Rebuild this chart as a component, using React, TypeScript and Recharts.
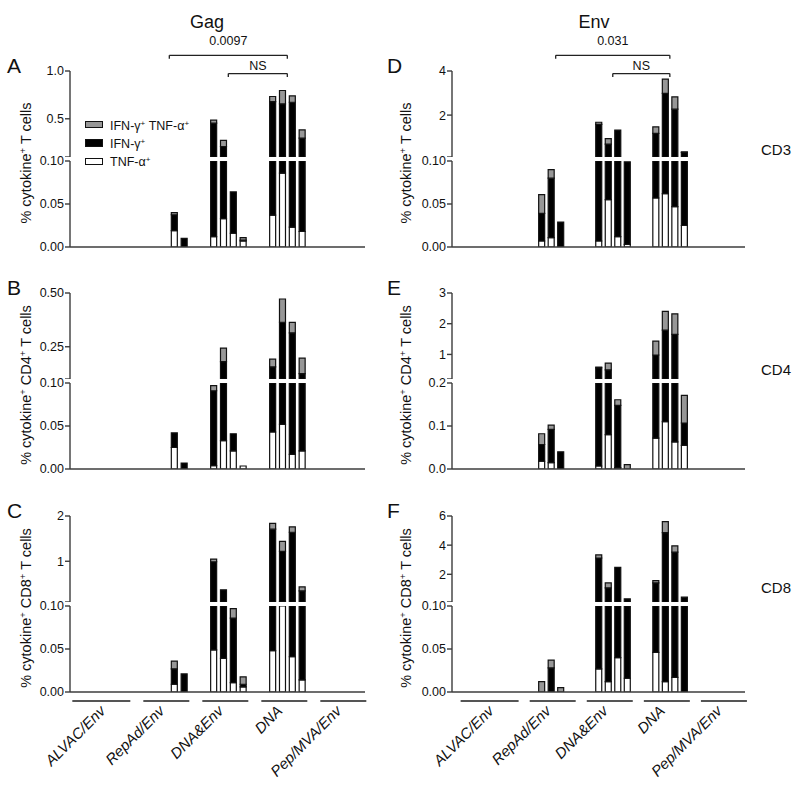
import React from "react";
import { BarChart, Bar, XAxis, YAxis, ReferenceLine, Legend } from "recharts";

const FONT = "'Liberation Sans', Arial, Helvetica, sans-serif";
const INK = "#111";
const AXIS = "#3c3c3c";
const GRAY = "#979797";

const GROUPS = ["ALVAC/Env", "RepAd/Env", "DNA&Env", "DNA", "Pep/MVA/Env"];
const PER_GROUP = 4;
const STRIDE = 6; // 4 animals + 2 empty slots between groups

// 4 animals per group, groups in GROUPS order
// white = TNF-α+ only, black = IFN-γ+ only, gray = IFN-γ+ TNF-α+
const GAG_CD3_TNF = [0, 0, 0, 0, 0, 0, 0.019, 0, 0.012, 0.033, 0.016, 0.007, 0.037, 0.086, 0.023, 0.018, 0, 0, 0, 0];
const GAG_CD3_IFN = [0, 0, 0, 0, 0, 0, 0.0185, 0.01, 0.443, 0.177, 0.048, 0.001, 0.643, 0.57, 0.65, 0.28, 0, 0, 0, 0];
const GAG_CD3_DBL = [0, 0, 0, 0, 0, 0, 0.0025, 0, 0.03, 0.065, 0, 0.003, 0.053, 0.14, 0.067, 0.085, 0, 0, 0, 0];

const GAG_CD4_TNF = [0, 0, 0, 0, 0, 0, 0.025, 0, 0.004, 0.033, 0.021, 0.0035, 0.043, 0.052, 0.017, 0.021, 0, 0, 0, 0];
const GAG_CD4_IFN = [0, 0, 0, 0, 0, 0, 0.017, 0.007, 0.087, 0.148, 0.02, 0, 0.113, 0.312, 0.298, 0.104, 0, 0, 0, 0];
const GAG_CD4_DBL = [0, 0, 0, 0, 0, 0, 0, 0, 0.006, 0.063, 0, 0, 0.036, 0.108, 0.048, 0.072, 0, 0, 0, 0];

const GAG_CD8_TNF = [0, 0, 0, 0, 0, 0, 0.009, 0, 0.049, 0.039, 0.011, 0.006, 0.048, 0.105, 0.041, 0.014, 0, 0, 0, 0];
const GAG_CD8_IFN = [0, 0, 0, 0, 0, 0, 0.018, 0.021, 0.94, 0.33, 0.075, 0.003, 1.66, 1.115, 1.6, 0.33, 0, 0, 0, 0];
const GAG_CD8_DBL = [0, 0, 0, 0, 0, 0, 0.009, 0, 0.06, 0, 0.011, 0.0086, 0.13, 0.22, 0.12, 0.09, 0, 0, 0, 0];

const ENV_CD3_TNF = [0, 0, 0, 0, 0.007, 0.011, 0, 0, 0.007, 0.055, 0.012, 0.003, 0.057, 0.062, 0.047, 0.025, 0, 0, 0, 0];
const ENV_CD3_IFN = [0, 0, 0, 0, 0.032, 0.069, 0.029, 0, 1.57, 0.63, 1.31, 0.096, 1.11, 2.92, 2.22, 0.28, 0, 0, 0, 0];
const ENV_CD3_DBL = [0, 0, 0, 0, 0.022, 0.01, 0, 0, 0.1, 0.25, 0, 0, 0.3, 0.65, 0.56, 0.03, 0, 0, 0, 0];

const ENV_CD4_TNF = [0, 0, 0, 0, 0.018, 0.015, 0, 0, 0.007, 0.08, 0.003, 0, 0.072, 0.11, 0.063, 0.055, 0, 0, 0, 0];
const ENV_CD4_IFN = [0, 0, 0, 0, 0.039, 0.077, 0.04, 0, 0.56, 0.42, 0.145, 0, 0.91, 1.68, 1.59, 0.052, 0, 0, 0, 0];
const ENV_CD4_DBL = [0, 0, 0, 0, 0.025, 0.01, 0, 0, 0.02, 0.22, 0.013, 0.01, 0.45, 0.61, 0.67, 0.064, 0, 0, 0, 0];

const ENV_CD8_TNF = [0, 0, 0, 0, 0, 0, 0, 0, 0.027, 0.012, 0.04, 0.016, 0.046, 0.012, 0.017, 0, 0, 0, 0, 0];
const ENV_CD8_IFN = [0, 0, 0, 0, 0, 0.028, 0, 0, 3.09, 1.06, 2.44, 0.3, 1.36, 4.85, 3.51, 0.43, 0, 0, 0, 0];
const ENV_CD8_DBL = [0, 0, 0, 0, 0.012, 0.009, 0.005, 0, 0.22, 0.34, 0, 0, 0.16, 0.75, 0.43, 0, 0, 0, 0, 0];

// y ticks of the two axis segments
const LOW_TICKS = [0, 0.05, 0.1];
const LOW_LABELS = ["0.00", "0.05", "0.10"];
const LOW_TICKS_E = [0, 0.1, 0.2];
const LOW_LABELS_E = ["0.0", "0.1", "0.2"];

const SERIES = [
  { key: "tnf", name: "TNF-α+", fill: "#ffffff" },
  { key: "ifn", name: "IFN-γ+", fill: "#000000" },
  { key: "dbl", name: "IFN-γ+ TNF-α+", fill: GRAY },
];

const GAG_BRACKETS = [
  { label: "0.0097", from: 1, to: 3, level: 0 },
  { label: "NS", from: 2, to: 3, level: 1 },
];
const ENV_BRACKETS = [
  { label: "0.031", from: 1, to: 3, level: 0 },
  { label: "NS", from: 2, to: 3, level: 1 },
];

const PANELS = [
  { letter: "A", col: 0, row: 0, tnf: GAG_CD3_TNF, ifn: GAG_CD3_IFN, dbl: GAG_CD3_DBL, lowMax: 0.1, lowTicks: LOW_TICKS, lowLabels: LOW_LABELS, upMax: 1, upTicks: [0.5, 1], upLabels: ["0.5", "1.0"], title: ["% cytokine", "+", " T cells"], brackets: GAG_BRACKETS, legend: true },
  { letter: "B", col: 0, row: 1, tnf: GAG_CD4_TNF, ifn: GAG_CD4_IFN, dbl: GAG_CD4_DBL, lowMax: 0.1, lowTicks: LOW_TICKS, lowLabels: LOW_LABELS, upMax: 0.5, upTicks: [0.25, 0.5], upLabels: ["0.25", "0.50"], title: ["% cytokine", "+", " CD4", "+", " T cells"] },
  { letter: "C", col: 0, row: 2, tnf: GAG_CD8_TNF, ifn: GAG_CD8_IFN, dbl: GAG_CD8_DBL, lowMax: 0.1, lowTicks: LOW_TICKS, lowLabels: LOW_LABELS, upMax: 2, upTicks: [1, 2], upLabels: ["1", "2"], title: ["% cytokine", "+", " CD8", "+", " T cells"] },
  { letter: "D", col: 1, row: 0, tnf: ENV_CD3_TNF, ifn: ENV_CD3_IFN, dbl: ENV_CD3_DBL, lowMax: 0.1, lowTicks: LOW_TICKS, lowLabels: LOW_LABELS, upMax: 4, upTicks: [2, 4], upLabels: ["2", "4"], title: ["% cytokine", "+", " T cells"], brackets: ENV_BRACKETS },
  { letter: "E", col: 1, row: 1, tnf: ENV_CD4_TNF, ifn: ENV_CD4_IFN, dbl: ENV_CD4_DBL, lowMax: 0.2, lowTicks: LOW_TICKS_E, lowLabels: LOW_LABELS_E, upMax: 3, upTicks: [1, 2, 3], upLabels: ["1", "2", "3"], title: ["% cytokine", "+", " CD4", "+", " T cells"] },
  { letter: "F", col: 1, row: 2, tnf: ENV_CD8_TNF, ifn: ENV_CD8_IFN, dbl: ENV_CD8_DBL, lowMax: 0.1, lowTicks: LOW_TICKS, lowLabels: LOW_LABELS, upMax: 6, upTicks: [2, 4, 6], upLabels: ["2", "4", "6"], title: ["% cytokine", "+", " CD8", "+", " T cells"] },
];

const COL_TITLES = ["Gag", "Env"];
const ROW_LABELS = ["CD3", "CD4", "CD8"];

// layout
const ROW_TOP = [71, 293, 516];
const UP_H = 86;
const GAP = 4;
const LOW_H = 86;
const COL_X = [0, 382];
const AXIS_W = 70;
const PLOT_W = [295, 293];
const MR = 10;
const X_DOMAIN: [number, number][] = [[-2.6, 27.4], [-3.4, 27.4]];

const tickStyle = { fontSize: 12.5, fill: INK, fontFamily: FONT };

function withSup(s: string, supSize = 8) {
  const parts = s.split("+");
  const out: React.ReactNode[] = [];
  parts.forEach((p, i) => {
    out.push(<span key={"t" + i}>{p}</span>);
    if (i < parts.length - 1) out.push(<sup key={"s" + i} style={{ fontSize: supSize, verticalAlign: "4px" }}>+</sup>);
  });
  return out;
}

const LegendBox = () => (
  <div style={{ fontFamily: FONT, fontSize: 12.5, color: INK }}>
    {[...SERIES].reverse().map((s) => (
      <div key={s.key} style={{ display: "flex", alignItems: "center", height: 18.3, lineHeight: "14px" }}>
        <span style={{ display: "inline-block", width: 16, height: 5.5, background: s.fill, border: "1.2px solid #111", marginRight: 7 }} />
        <span>{withSup(s.name)}</span>
      </div>
    ))}
  </div>
);

const GroupTick = (props: any) => {
  const { x, y, payload } = props;
  const i = Math.round((payload.value - 1.5) / STRIDE);
  const left = i === 0 ? x - 38 : x - 26;
  const tx = x - 4;
  const ty = y + 20;
  return (
    <g>
      <line x1={left} x2={x + 20} y1={y + 9} y2={y + 9} stroke="#555" strokeWidth={2} />
      <text x={tx} y={ty} transform={`rotate(-45 ${tx} ${ty})`} textAnchor="end" fontStyle="italic" fontSize={15} fontFamily={FONT} fill={INK}>
        {GROUPS[i]}
      </text>
    </g>
  );
};

function fmt(ticks: number[], labels: string[]) {
  return (v: number) => {
    const k = ticks.indexOf(v);
    return k >= 0 ? labels[k] : "";
  };
}

function bars() {
  return SERIES.map((s) => (
    <Bar key={s.key} dataKey={s.key} name={s.name} stackId="s" fill={s.fill} stroke="#111" strokeWidth={1.2} barSize={6} isAnimationActive={false} />
  ));
}

function Panel({ p }: { p: any }) {
  const rows = GROUPS.flatMap((_, g) =>
    Array.from({ length: PER_GROUP }, (_, s) => {
      const i = g * PER_GROUP + s;
      return { x: g * STRIDE + s, tnf: p.tnf[i], ifn: p.ifn[i], dbl: p.dbl[i] };
    })
  );
  const groupCenters = GROUPS.map((_, g) => g * STRIDE + (PER_GROUP - 1) / 2);
  const xDom = X_DOMAIN[p.col];
  const width = AXIS_W + PLOT_W[p.col] + MR;
  const top = ROW_TOP[p.row];
  const mtUp = p.row === 0 ? 50 : 10;
  const mtLow = 8;
  const bottom = p.row === 2;
  const xh = bottom ? 90 : 2;
  const mbLow = bottom ? 0 : 10;
  const upMin = p.lowMax;
  const perPx = (p.upMax - upMin) / UP_H;
  const yPx = (dpx: number) => p.upMax - dpx * perPx;
  const axisLine = { stroke: AXIS, strokeWidth: 1.4 };

  return (
    <>
      <div style={{ position: "absolute", left: COL_X[p.col], top: top - mtUp }}>
        <BarChart width={width} height={mtUp + UP_H} data={rows} margin={{ top: mtUp, right: MR, bottom: 0, left: 0 }}>
          <XAxis type="number" dataKey="x" domain={xDom} allowDataOverflow hide />
          <YAxis
            type="number"
            domain={[upMin, p.upMax]}
            allowDataOverflow
            ticks={[upMin, ...p.upTicks]}
            interval={0}
            tickFormatter={fmt(p.upTicks, p.upLabels)}
            width={AXIS_W}
            tick={tickStyle}
            tickSize={5}
            tickMargin={1}
            tickLine={axisLine}
            axisLine={axisLine}
          />
          {bars()}
          {(p.brackets || []).flatMap((b: any, k: number) => {
            const dpx = b.level === 0 ? -15.7 : 2.6;
            const yv = yPx(dpx);
            const yd = yPx(dpx + 3.5);
            const x1 = groupCenters[b.from];
            const x2 = groupCenters[b.to];
            const st = { stroke: "#222", strokeWidth: 1.3 };
            return [
              <ReferenceLine key={`h${k}`} segment={[{ x: x1, y: yv }, { x: x2, y: yv }]} ifOverflow="visible" {...st}
                label={{ value: b.label, position: "top", offset: b.level === 0 ? 10 : 3.3, fontSize: 12.5, fill: INK, fontFamily: FONT }} />,
              <ReferenceLine key={`l${k}`} segment={[{ x: x1, y: yv }, { x: x1, y: yd }]} ifOverflow="visible" {...st} />,
              <ReferenceLine key={`r${k}`} segment={[{ x: x2, y: yv }, { x: x2, y: yd }]} ifOverflow="visible" {...st} />,
            ];
          })}
          {p.legend && (
            <Legend layout="vertical" align="center" verticalAlign="middle" content={<LegendBox />}
              wrapperStyle={{ position: "absolute", left: 85, top: 94.6, width: 200, height: 56 }} />
          )}
        </BarChart>
      </div>
      <div style={{ position: "absolute", left: COL_X[p.col], top: top + UP_H + GAP - mtLow }}>
        <BarChart width={width} height={mtLow + LOW_H + xh + mbLow} data={rows} margin={{ top: mtLow, right: MR, bottom: mbLow, left: 0 }}>
          <XAxis
            type="number"
            dataKey="x"
            domain={xDom}
            allowDataOverflow
            ticks={groupCenters}
            interval={0}
            tick={bottom ? <GroupTick /> : false}
            tickLine={false}
            tickSize={0}
            tickMargin={0}
            axisLine={axisLine}
            height={xh}
          />
          <YAxis
            type="number"
            domain={[0, p.lowMax]}
            allowDataOverflow
            ticks={p.lowTicks}
            interval={0}
            tickFormatter={fmt(p.lowTicks, p.lowLabels)}
            width={AXIS_W}
            tick={tickStyle}
            tickSize={5}
            tickMargin={1}
            tickLine={axisLine}
            axisLine={axisLine}
          />
          {bars()}
        </BarChart>
      </div>
    </>
  );
}

function SupText({ x, y, parts, size, rotate }: any) {
  return (
    <text x={x} y={y} textAnchor="middle" fontSize={size} fontFamily={FONT} fill={INK}
      transform={rotate ? `rotate(-90 ${x} ${y})` : undefined}>
      {parts.map((s: string, i: number) =>
        i % 2 ? (
          <tspan key={i} fontSize={9.5} dy={-5.5}>{s}</tspan>
        ) : (
          <tspan key={i} dy={i > 0 ? 5.5 : 0}>{s}</tspan>
        )
      )}
    </text>
  );
}

export default function App() {
  return (
    <div style={{ position: "absolute", left: 0, top: 0, width: 800, height: 786, background: "#fff", fontFamily: FONT }}>
      {PANELS.map((p) => (
        <Panel key={p.letter} p={p} />
      ))}
      <svg width={800} height={786} style={{ position: "absolute", left: 0, top: 0, pointerEvents: "none" }}>
        {COL_TITLES.map((t, c) => (
          <text key={t} x={c === 0 ? 207 : 594} y={28} textAnchor="middle" fontSize={18} fontFamily={FONT} fill={INK}>{t}</text>
        ))}
        {ROW_LABELS.map((t, r) => (
          <text key={t} x={761} y={ROW_TOP[r] + [84, 82, 77][r]} fontSize={15} fontFamily={FONT} fill={INK}>{t}</text>
        ))}
        {PANELS.map((p) => (
          <g key={p.letter}>
            <text x={p.col === 0 ? 7 : 387} y={ROW_TOP[p.row] + 2} fontSize={21} fontFamily={FONT} fill={INK}>{p.letter}</text>
            <SupText x={p.col === 0 ? 31 : 411} y={ROW_TOP[p.row] + 92} parts={p.title} size={14.5} rotate />
          </g>
        ))}
      </svg>
    </div>
  );
}
